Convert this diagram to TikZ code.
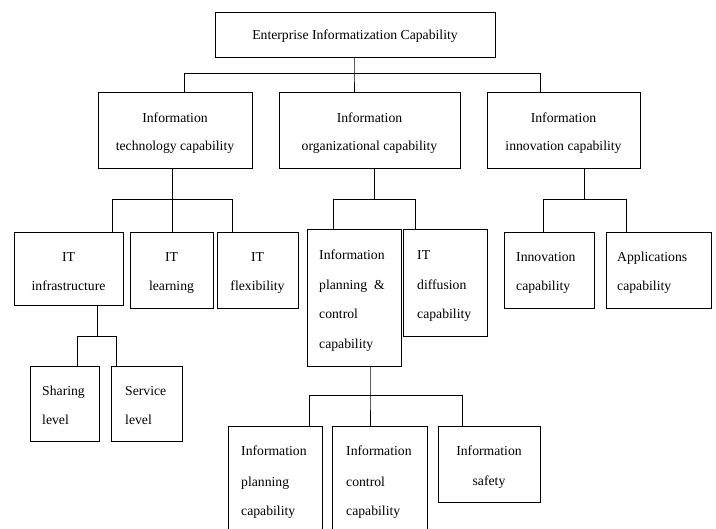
\documentclass[tikz,border=0pt]{standalone}
\usepackage{fontspec}
\setmainfont{Liberation Serif}
\begin{document}
\begin{tikzpicture}[x=1pt,y=-1pt,
  box/.style={draw, line width=1pt, inner sep=0pt, anchor=north west},
  txt/.style={font=\fontsize{13.7}{16}\selectfont, inner sep=0pt, anchor=base},
  ltxt/.style={txt, anchor=base west},
  conn/.style={line width=0.9pt}]
\clip (0,0) rectangle (716,529);
\fill[white] (0,0) rectangle (716,529);
% boxes
\node[box, minimum width=280pt, minimum height=45pt] (top) at (215,12) {};
\node[box, minimum width=154pt, minimum height=76pt] (itc) at (98,92) {};
\node[box, minimum width=181pt, minimum height=76pt] (ioc) at (279,92) {};
\node[box, minimum width=153pt, minimum height=76pt] (iic) at (487,92) {};
\node[box, minimum width=109pt, minimum height=73pt] (itinfra) at (14,232) {};
\node[box, minimum width=83pt, minimum height=76pt] (itlearn) at (130,232) {};
\node[box, minimum width=81pt, minimum height=76pt] (itflex) at (217,232) {};
\node[box, minimum width=94pt, minimum height=137pt] (ipcc) at (307,229) {};
\node[box, minimum width=84pt, minimum height=107pt] (itdiff) at (403,229) {};
\node[box, minimum width=90pt, minimum height=76pt] (innov) at (504,232) {};
\node[box, minimum width=105pt, minimum height=76pt] (appl) at (606,232) {};
\node[box, minimum width=69pt, minimum height=75pt] (share) at (30,366) {};
\node[box, minimum width=71pt, minimum height=75pt] (serv) at (111,366) {};
\node[box, minimum width=94pt, minimum height=112pt] (iplan) at (228,426) {};
\node[box, minimum width=95pt, minimum height=112pt] (icont) at (332,426) {};
\node[box, minimum width=102pt, minimum height=76pt] (isafe) at (438,426) {};
% texts
\node[txt] (ttop) at (355,40) {Enterprise Informatization Capability};
\node[txt] (titc1) at (175,123) {Information};
\node[txt] (titc2) at (175,151) {technology capability};
\node[txt] (tioc1) at (369.5,123) {Information};
\node[txt] (tioc2) at (369.5,151) {organizational capability};
\node[txt] (tiic1) at (563.5,123) {Information};
\node[txt] (tiic2) at (563.5,151) {innovation capability};
\node[txt] (tinf1) at (68.5,262) {IT};
\node[txt] (tinf2) at (68.5,291) {infrastructure};
\node[txt] (tlrn1) at (171.5,262) {IT};
\node[txt] (tlrn2) at (171.5,291) {learning};
\node[txt] (tflx1) at (257.5,262) {IT};
\node[txt] (tflx2) at (257.5,291) {flexibility};
\node[ltxt] (tpcc1) at (319,260) {Information};
\node[ltxt] (tpcc2) at (319,290) {planning~~\&};
\node[ltxt] (tpcc3) at (319,319) {control};
\node[ltxt] (tpcc4) at (319,349) {capability};
\node[ltxt] (tdif1) at (417,260) {IT};
\node[ltxt] (tdif2) at (417,290) {diffusion};
\node[ltxt] (tdif3) at (417,319) {capability};
\node[ltxt] (tinn1) at (516,262) {Innovation};
\node[ltxt] (tinn2) at (516,291) {capability};
\node[ltxt] (tapp1) at (617,262) {Applications};
\node[ltxt] (tapp2) at (617,291) {capability};
\node[ltxt] (tshr1) at (42,396) {Sharing};
\node[ltxt] (tshr2) at (42,425) {level};
\node[ltxt] (tsrv1) at (125,396) {Service};
\node[ltxt] (tsrv2) at (125,425) {level};
\node[ltxt] (tpln1) at (241,456) {Information};
\node[ltxt] (tpln2) at (241,487) {planning};
\node[ltxt] (tpln3) at (241,516) {capability};
\node[ltxt] (tcnt1) at (346,456) {Information};
\node[ltxt] (tcnt2) at (346,487) {control};
\node[ltxt] (tcnt3) at (346,516) {capability};
\node[txt] (tsaf1) at (489,456) {Information};
\node[txt] (tsaf2) at (489,486) {safety};
% connector junctions
\coordinate (b0L) at (184,73);
\coordinate (b0M) at (354,73);
\coordinate (b0R) at (540,73);
\coordinate (b1L) at (112,199);
\coordinate (b1M) at (172,199);
\coordinate (b1R) at (232,199);
\coordinate (b2L) at (333,199);
\coordinate (b2M) at (374,199);
\coordinate (b2R) at (415,199);
\coordinate (b3L) at (543,199);
\coordinate (b3M) at (584,199);
\coordinate (b3R) at (626,199);
\coordinate (b4L) at (77,336);
\coordinate (b4M) at (97,336);
\coordinate (b4R) at (116,336);
\coordinate (b5L) at (309,395);
\coordinate (b5M) at (370,395);
\coordinate (b5R) at (462,395);
% connectors
\draw[conn] (b0M |- top.south) -- (b0M) -- (b0M |- ioc.north);
\draw[conn] (b0L |- itc.north) -- (b0L) -- (b0R) -- (b0R |- iic.north);
\draw[conn] (b1M |- itc.south) -- (b1M |- itlearn.north);
\draw[conn] (b1L |- itinfra.north) -- (b1L) -- (b1R) -- (b1R |- itflex.north);
\draw[conn] (b2M |- ioc.south) -- (b2M);
\draw[conn] (b2L |- ipcc.north) -- (b2L) -- (b2R) -- (b2R |- itdiff.north);
\draw[conn] (b3M |- iic.south) -- (b3M);
\draw[conn] (b3L |- innov.north) -- (b3L) -- (b3R) -- (b3R |- appl.north);
\draw[conn] (b4M |- itinfra.south) -- (b4M);
\draw[conn] (b4L |- share.north) -- (b4L) -- (b4R) -- (b4R |- serv.north);
\draw[conn] (b5M |- ipcc.south) -- (b5M) -- (b5M |- icont.north);
\draw[conn] (b5L |- iplan.north) -- (b5L) -- (b5R) -- (b5R |- isafe.north);
\end{tikzpicture}
\end{document}
